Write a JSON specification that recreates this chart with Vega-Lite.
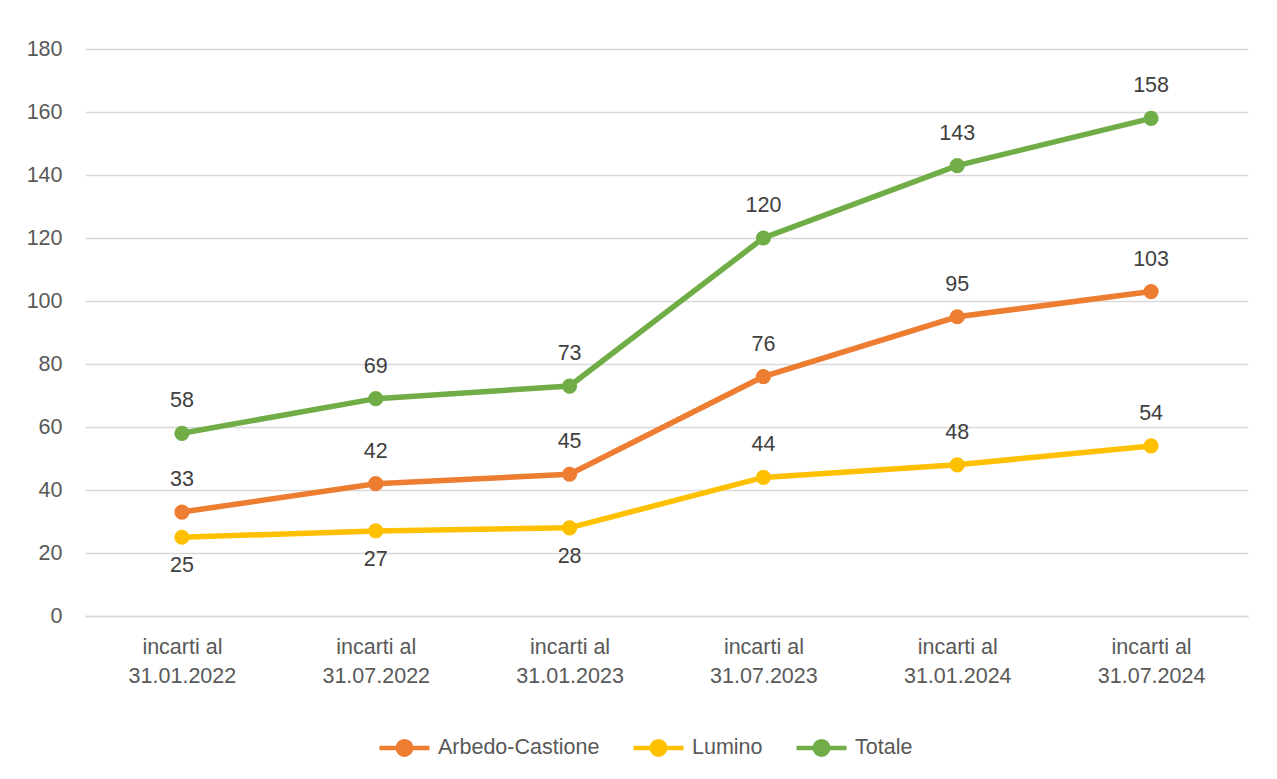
{
  "$schema": "https://vega.github.io/schema/vega-lite/v6.json",
  "width": 1163,
  "height": 567,
  "autosize": {"type": "none"},
  "padding": {"left": 85, "top": 49, "right": 29, "bottom": 163},
  "background": "white",
  "config": {
    "view": {"stroke": null},
    "font": "Liberation Sans"
  },
  "data": {
    "values": [
      {"periodo": "incarti al 31.01.2022", "serie": "Arbedo-Castione", "valore": 33},
      {"periodo": "incarti al 31.07.2022", "serie": "Arbedo-Castione", "valore": 42},
      {"periodo": "incarti al 31.01.2023", "serie": "Arbedo-Castione", "valore": 45},
      {"periodo": "incarti al 31.07.2023", "serie": "Arbedo-Castione", "valore": 76},
      {"periodo": "incarti al 31.01.2024", "serie": "Arbedo-Castione", "valore": 95},
      {"periodo": "incarti al 31.07.2024", "serie": "Arbedo-Castione", "valore": 103},
      {"periodo": "incarti al 31.01.2022", "serie": "Lumino", "valore": 25},
      {"periodo": "incarti al 31.07.2022", "serie": "Lumino", "valore": 27},
      {"periodo": "incarti al 31.01.2023", "serie": "Lumino", "valore": 28},
      {"periodo": "incarti al 31.07.2023", "serie": "Lumino", "valore": 44},
      {"periodo": "incarti al 31.01.2024", "serie": "Lumino", "valore": 48},
      {"periodo": "incarti al 31.07.2024", "serie": "Lumino", "valore": 54},
      {"periodo": "incarti al 31.01.2022", "serie": "Totale", "valore": 58},
      {"periodo": "incarti al 31.07.2022", "serie": "Totale", "valore": 69},
      {"periodo": "incarti al 31.01.2023", "serie": "Totale", "valore": 73},
      {"periodo": "incarti al 31.07.2023", "serie": "Totale", "valore": 120},
      {"periodo": "incarti al 31.01.2024", "serie": "Totale", "valore": 143},
      {"periodo": "incarti al 31.07.2024", "serie": "Totale", "valore": 158}
    ]
  },
  "encoding": {
    "x": {
      "field": "periodo",
      "type": "ordinal",
      "sort": null,
      "scale": {"type": "point", "padding": 0.5},
      "axis": {
        "title": null,
        "labelAngle": 0,
        "labelExpr": "['incarti al', slice(datum.label, 11)]",
        "labelFontSize": 21.5,
        "labelColor": "#595959",
        "labelPadding": 20,
        "labelLineHeight": 29,
        "labelBaseline": "top",
        "ticks": false,
        "domain": true,
        "domainColor": "#D9D9D9",
        "domainWidth": 1.5,
        "grid": false
      }
    },
    "y": {
      "field": "valore",
      "type": "quantitative",
      "scale": {"domain": [0, 180], "nice": false},
      "axis": {
        "title": null,
        "values": [0, 20, 40, 60, 80, 100, 120, 140, 160, 180],
        "labelFontSize": 21.5,
        "labelColor": "#595959",
        "labelPadding": 23,
        "ticks": false,
        "domain": false,
        "grid": true,
        "gridColor": "#D9D9D9",
        "gridWidth": 1.5
      }
    },
    "color": {
      "field": "serie",
      "type": "nominal",
      "scale": {
        "domain": ["Arbedo-Castione", "Lumino", "Totale"],
        "range": ["#ED7D31", "#FFC000", "#70AD47"]
      },
      "legend": {
        "title": null,
        "orient": "none",
        "direction": "horizontal",
        "legendX": 292,
        "legendY": 671,
        "padding": 0,
        "symbolType": "M-1,0H1M0.27,0A0.27,0.27,0,1,1,-0.27,0A0.27,0.27,0,1,1,0.27,0",
        "symbolSize": 2500,
        "symbolStrokeWidth": 4.5,
        "symbolOpacity": 1,
        "labelFontSize": 21.5,
        "labelLimit": 0,
        "labelColor": "#595959",
        "labelOffset": 6,
        "columnPadding": 24,
        "encode": {
          "symbols": {"update": {"fill": {"scale": "color", "field": "value"}, "fillOpacity": {"value": 1}}}
        }
      }
    }
  },
  "layer": [
    {
      "mark": {"type": "line", "strokeWidth": 5.5, "point": {"filled": true, "size": 230, "opacity": 1}}
    },
    {
      "transform": [{"filter": "datum.serie != 'Lumino' || datum.valore > 30"}],
      "mark": {"type": "text", "dy": -32, "fontSize": 21.5, "color": "#404040", "baseline": "middle"},
      "encoding": {"text": {"field": "valore", "type": "quantitative"}, "color": {"value": "#404040"}}
    },
    {
      "transform": [{"filter": "datum.serie == 'Lumino' && datum.valore <= 30"}],
      "mark": {"type": "text", "dy": 29, "fontSize": 21.5, "color": "#404040", "baseline": "middle"},
      "encoding": {"text": {"field": "valore", "type": "quantitative"}, "color": {"value": "#404040"}}
    }
  ]
}
